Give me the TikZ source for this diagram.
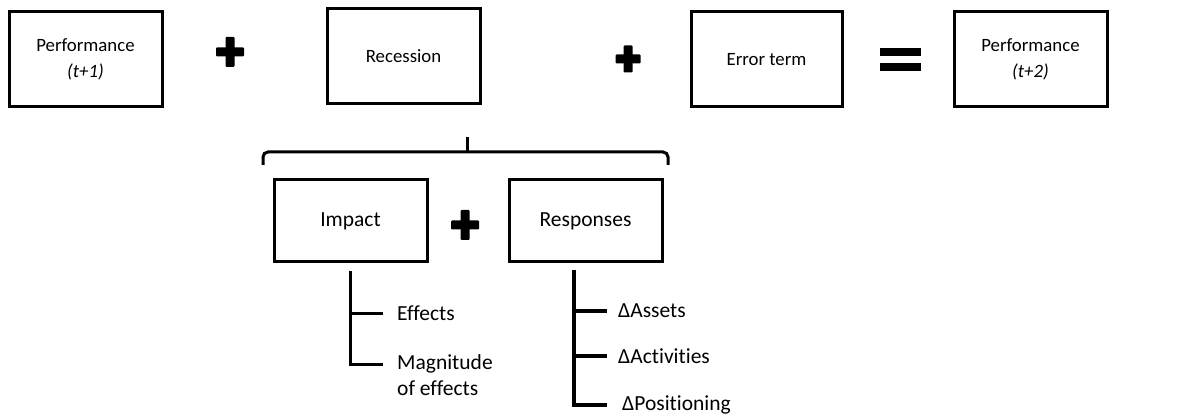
\documentclass[tikz,border=0pt]{standalone}
\usepackage{fontspec}
\setmainfont[Ligatures=NoCommon]{Carlito}
\usetikzlibrary{positioning, calc}

\begin{document}
\begin{tikzpicture}[x=1pt, y=-1pt,
    eqbox/.style={draw, line width=3pt, minimum width=153pt, minimum height=95pt,
        inner sep=0pt, align=center, font=\fontsize{18.8}{26}\selectfont},
    subbox/.style={eqbox, minimum height=82pt, font=\fontsize{21.5}{26}\selectfont},
    leaf/.style={anchor=west, inner xsep=14pt, inner ysep=0pt, align=left,
        font=\fontsize{21.5}{26}\selectfont},
    impacttree/.style={line width=3pt},
    resptree/.style={line width=4.5pt},
    bracket/.style={line width=3pt, rounded corners=5pt}]

\useasboundingbox (0,0) rectangle (1182,419);

% ============================================================
% ECUACION (fila superior)
% ============================================================

\node[eqbox] (perf1) at (85.5, 59.5) {Performance\\\textit{(t+1)}};
\node[eqbox] (reces) at (403.5, 56.5) {Recession};
\node[eqbox, minimum width=151pt] (err) at (766.5, 59.5) {Error term};
\node[eqbox] (perf2) at (1030.5, 59.5) {Performance\\\textit{(t+2)}};

% Signos mas
\foreach \cx/\cy/\s in {230/52/14, 628/59/12.5, 465/225/14} {
    \fill[rounded corners=1pt] (\cx-\s, \cy-4.5) rectangle (\cx+\s, \cy+4.5);
    \fill[rounded corners=1pt] (\cx-4.5, \cy-\s-1) rectangle (\cx+4.5, \cy+\s+1);
}

% Signo igual
\fill (880, 48) rectangle (921, 56);
\fill (880, 63) rectangle (921, 71);

% ============================================================
% DESCOMPOSICION de la recesion
% ============================================================

% Llave
\draw[bracket] (263, 165) |- (668, 152) -- (668, 165);
\draw[line width=3pt] (467, 137) -- (467, 153);

\node[subbox] (impact) at (350.5, 221) {Impact};
\node[subbox] (resp) at (585.5, 221) {Responses};

% ============================================================
% RAMAS
% ============================================================

% Impact
\node[leaf] (eff) at (383, 313) {Effects};
\node[leaf] (mag) at (383, 375) {Magnitude\\of effects};
\draw[impacttree] ([yshift=-8pt]impact.south) |- (eff.west);
\draw[impacttree] ([yshift=-8pt]impact.south) |- ([yshift=11pt]mag.west);

% Responses
\node[leaf, inner xsep=11pt] (assets) at (607, 311) {ΔAssets};
\node[leaf, inner xsep=11pt] (activ) at (607, 356) {ΔActivities};
\node[leaf, inner xsep=15pt] (posit) at (607, 405) {ΔPositioning};
\draw[resptree] ([xshift=-11.5pt, yshift=-7pt]resp.south) |- (posit.west);
\draw[resptree] ([xshift=-11.5pt, yshift=-7pt]resp.south) |- (assets.west);
\draw[resptree] ([xshift=-11.5pt, yshift=-7pt]resp.south) |- (activ.west);

\end{tikzpicture}
\end{document}
